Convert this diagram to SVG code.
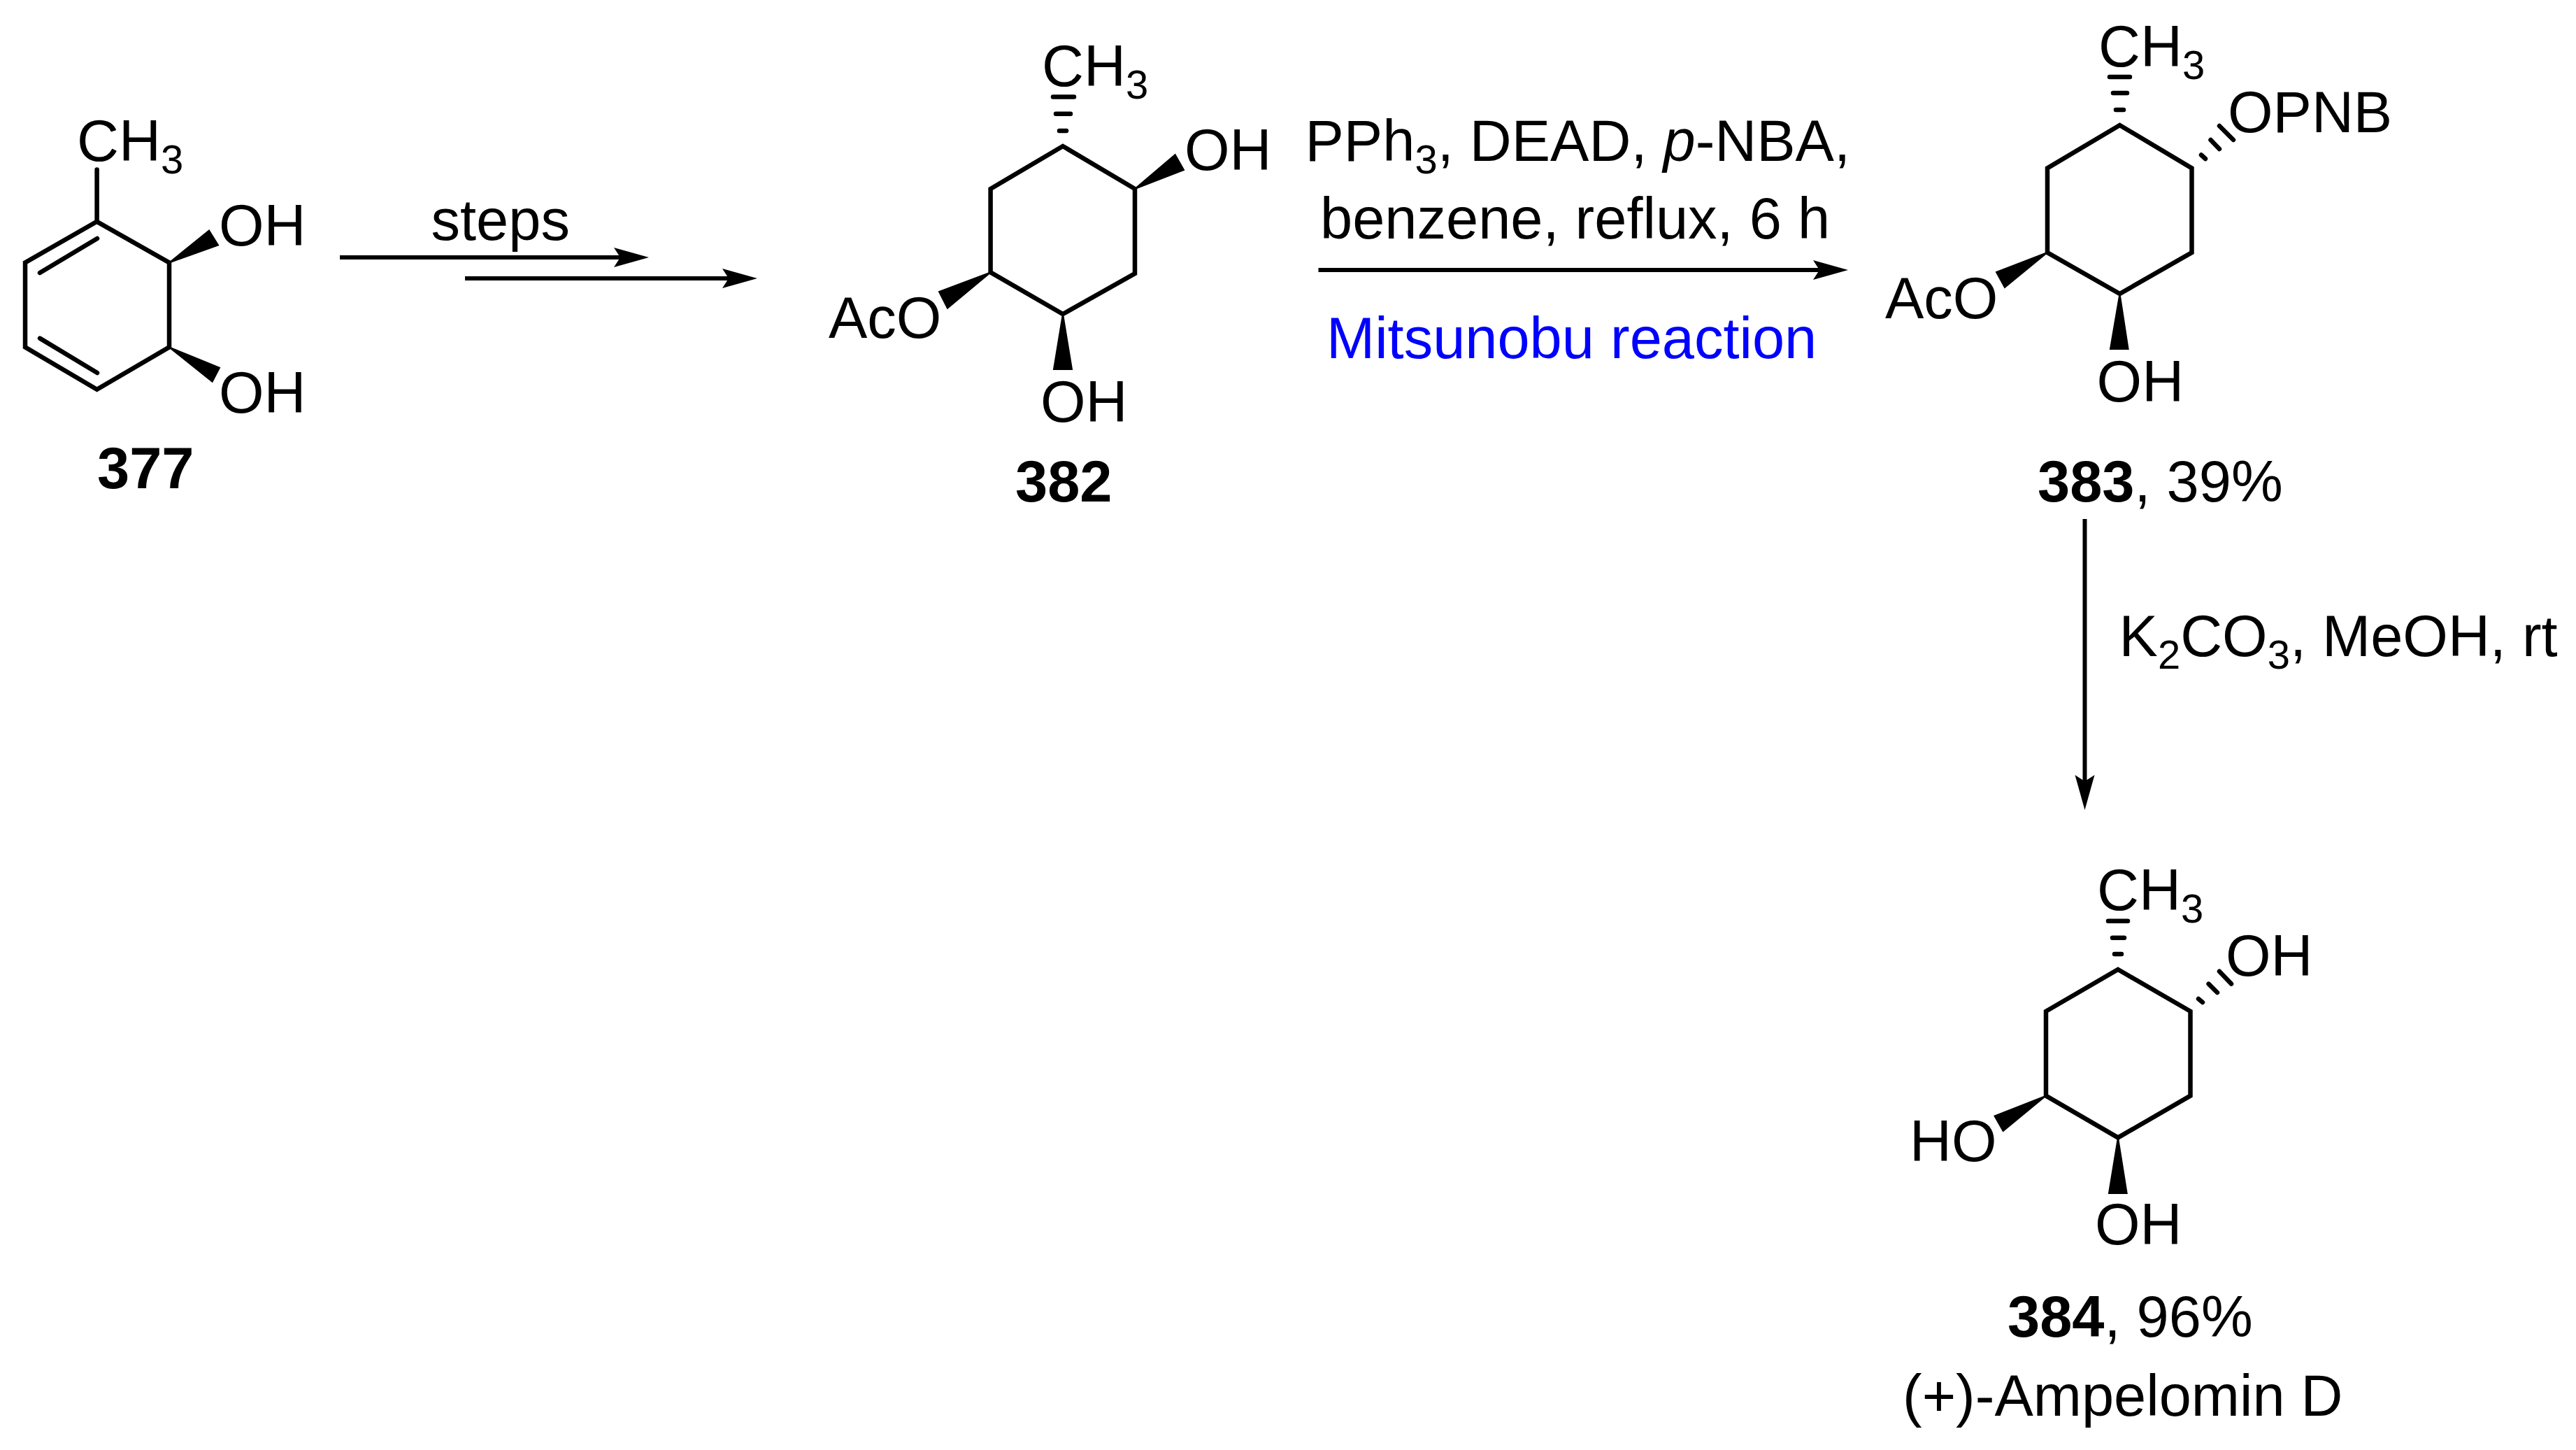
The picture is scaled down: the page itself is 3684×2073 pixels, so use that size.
<svg xmlns="http://www.w3.org/2000/svg" width="3684" height="2073" viewBox="0 0 3684 2073">
<style>
text{font-family:"Liberation Sans",Arial,sans-serif;font-size:83px;fill:#000;font-kerning:none}
.sub{font-size:58px}
.b{font-weight:bold}
.blue{fill:#00f}
.bond{fill:none;stroke:#000;stroke-width:6.5;stroke-linejoin:miter;stroke-linecap:round}
.hash{fill:none;stroke:#000;stroke-width:6.5;stroke-linecap:round}
.wedge{fill:#000;stroke:#000;stroke-width:2;stroke-linejoin:miter}
.arrow{fill:none;stroke:#000;stroke-width:6;marker-end:url(#head)}
</style>
<defs>
<marker id="head" markerUnits="userSpaceOnUse" markerWidth="60" markerHeight="34" viewBox="0 -17 60 34" refX="9" refY="0" orient="auto">
<path d="M0,-14 L50,0 L0,14 L9,0Z" fill="#000"/>
</marker>
</defs>
<rect width="3684" height="2073" fill="#fff"/>

<g id="connectors">
<line class="arrow" x1="486" y1="368" x2="887" y2="368"/>
<line class="arrow" x1="665" y1="398" x2="1042" y2="398"/>
<line class="arrow" x1="1885.5" y1="386" x2="2602" y2="386"/>
<line class="arrow" x1="2981.5" y1="742" x2="2981.5" y2="1117"/>
</g>

<g id="node-377">
<path class="bond" d="M138.6,316.8 L242,375.5 L242,496.4 L138.6,556.7 L36,496.4 L36,375.5 Z M138.6,316.8 L138.6,242.5 M139,341 L57,390 M57,483.6 L139,533"/>
<path class="wedge" d="M242,375.5 L299,329.5 L312,350.5Z M242,496.4 L314,525.7 L303.6,545.8Z"/>
<text x="110" y="230">CH<tspan class="sub" dy="18">3</tspan></text>
<text x="313" y="350.5">OH</text>
<text x="313" y="590">OH</text>
<text class="b" x="139" y="698">377</text>
</g>

<g id="label-steps"><text x="616.5" y="343">steps</text></g>

<g id="node-382">
<path class="bond" d="M1520,209 L1623,270 L1623,391 L1520,449 L1416.6,389.4 L1416.6,270 Z"/>
<path class="hash" d="M1506,138.5 H1536 M1510,162.7 H1531 M1515,187 H1525"/>
<path class="wedge" d="M1623,270 L1680.6,221 L1693,243Z M1520,449 L1507,528 L1533,528Z M1416.6,389.4 L1343,417 L1355,440.6Z"/>
<text x="1490" y="123">CH<tspan class="sub" dy="18">3</tspan></text>
<text x="1694" y="243">OH</text>
<text x="1488" y="603">OH</text>
<text x="1185" y="482.5">AcO</text>
<text class="b" x="1452" y="717">382</text>
</g>

<g id="label-mitsunobu-conditions">
<text x="1866.5" y="230">PPh<tspan class="sub" dy="18">3</tspan><tspan dy="-18">, DEAD, </tspan><tspan font-style="italic">p</tspan>-NBA,</text>
<text x="1888" y="341">benzene, reflux, 6 h</text>
<text class="blue" x="1897" y="512">Mitsunobu reaction</text>
</g>

<g id="node-383">
<path class="bond" d="M3031.5,179 L3134.5,240.4 L3134.5,361 L3031.5,420 L2928,361 L2928,240.4 Z"/>
<path class="hash" d="M3017,110 H3046 M3022,133 H3042 M3026,157 H3037 M3174,180 L3194,200 M3161.5,200 L3174,213 M3148,221.5 L3154,227"/>
<path class="wedge" d="M3031.5,420 L3018,499 L3043.6,499Z M2928,361 L2855,389 L2867,411Z"/>
<text x="3001" y="94.5">CH<tspan class="sub" dy="18">3</tspan></text>
<text x="3186" y="189">OPNB</text>
<text x="2998.6" y="574">OH</text>
<text x="2696" y="454.7">AcO</text>
<text x="2914" y="717"><tspan class="b">383</tspan>, 39%</text>
</g>

<g id="label-k2co3"><text x="3030.5" y="937.5">K<tspan class="sub" dy="18">2</tspan><tspan dy="-18">CO</tspan><tspan class="sub" dy="18">3</tspan><tspan dy="-18">, MeOH, rt</tspan></text></g>

<g id="node-384">
<path class="bond" d="M3029,1386 L3132.5,1445.8 L3132.5,1566.6 L3029,1626.4 L2926,1566.6 L2926,1445.8 Z"/>
<path class="hash" d="M3015,1316.8 H3043 M3021,1340.8 H3038 M3024,1364 H3034 M3174,1388.7 L3191,1406.6 M3158.6,1406.6 L3171,1419 M3144,1428 L3150,1433"/>
<path class="wedge" d="M2926,1566.6 L2852.5,1595.4 L2864.7,1617Z M3029,1626.4 L3016,1706 L3041.7,1706Z"/>
<text x="2999" y="1300.5">CH<tspan class="sub" dy="18">3</tspan></text>
<text x="3183" y="1395">OH</text>
<text x="2731" y="1659.6">HO</text>
<text x="2996" y="1779">OH</text>
<text x="2871" y="1911"><tspan class="b">384</tspan>, 96%</text>
<text x="2721" y="2024">(+)-Ampelomin D</text>
</g>
</svg>
